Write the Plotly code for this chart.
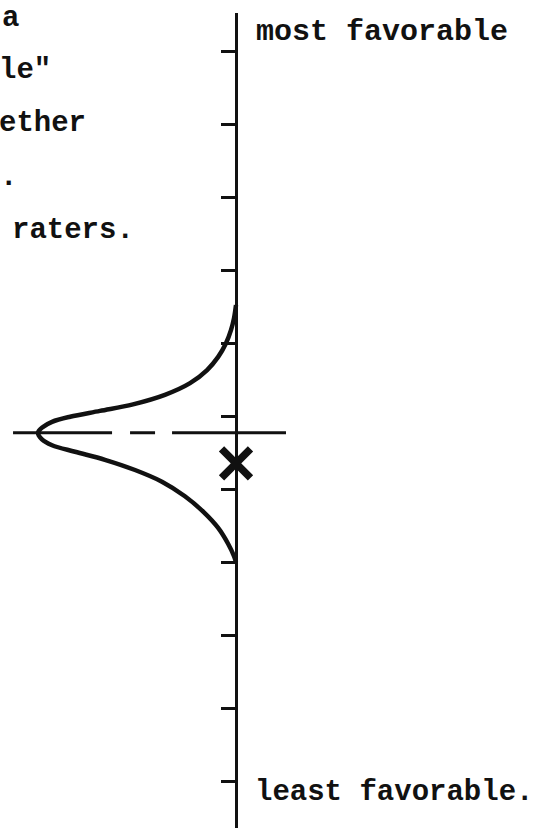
import plotly.graph_objects as go

# Rating scale: eleven tick positions, 0 = least favorable, 10 = most favorable
scale_ticks = list(range(11))

# Distribution of ratings, drawn to the left of the scale (relative frequency, peak = 1)
upper_levels = [6.52, 6.34, 6.18, 6.00, 5.81, 5.63, 5.45, 5.29, 5.16, 5.07, 4.99, 4.92, 4.85, 4.77]
upper_freq = [0.0, 0.01, 0.025, 0.05, 0.09, 0.146, 0.232, 0.359, 0.52, 0.687, 0.838, 0.929, 0.975, 1.0]
lower_levels = [4.68, 4.60, 4.51, 4.40, 4.26, 4.10, 3.90, 3.68, 3.47, 3.25, 3.08, 3.0]
lower_freq = [0.98, 0.929, 0.813, 0.662, 0.51, 0.374, 0.258, 0.162, 0.091, 0.04, 0.01, 0.0]

mean_level = 4.77          # average of the raters
own_rating = 4.35          # the individual rating (x)
mean_line_span = [-1.126, 0.2525]

# Fragments of the running text beside the chart
side_text = ['a', 'le"', 'ether', '.', 'raters.']

W, H = 538, 828
INK = "#111111"
FAMILY = "Liberation Mono, Courier New, monospace"


def font(size):
    return dict(family=FAMILY, size=size, color=INK, weight=700)


def px_x(p):
    return p / W


def px_y(p):
    return 1 - p / H


curve_levels = upper_levels + lower_levels
curve_freq = upper_freq + lower_freq

fig = go.Figure()

# Mean line across the distribution
fig.add_trace(go.Scatter(
    x=mean_line_span, y=[mean_level, mean_level], mode="lines",
    line=dict(color=INK, width=3, dash="99px,18px,25px,17px,150px,50px"),
    hoverinfo="skip", showlegend=False,
))

# Bell-shaped distribution of ratings
fig.add_trace(go.Scatter(
    x=[-f for f in curve_freq], y=curve_levels, mode="lines",
    line=dict(color=INK, width=4.5, shape="spline", smoothing=1.0),
    hoverinfo="skip", showlegend=False,
))

# Individual rating marker
fig.add_trace(go.Scatter(
    x=[0], y=[own_rating], mode="markers",
    marker=dict(symbol="x-thin", size=29, line=dict(color=INK, width=7.5)),
    hoverinfo="skip", showlegend=False,
))

fig.update_layout(
    width=W, height=H,
    margin=dict(l=0, r=0, t=0, b=0),
    paper_bgcolor="white", plot_bgcolor="white",
    showlegend=False,
    xaxis=dict(range=[-236 / 198, 302 / 198], visible=False, domain=[0, 1]),
    yaxis=dict(
        range=[(781 - 828) / 73, (781 - 13) / 73],
        domain=[0, (828 - 13) / 828],
        anchor="free", position=px_x(236),
        showline=True, linecolor=INK, linewidth=3,
        ticks="outside", ticklen=14, tickwidth=3, tickcolor=INK,
        tickvals=scale_ticks, showticklabels=False,
        showgrid=False, zeroline=False,
    ),
)

# Scale end labels
fig.add_annotation(text="most favorable", xref="paper", yref="paper",
                   x=px_x(254), y=px_y(32), xanchor="left", yanchor="middle",
                   showarrow=False, font=font(30))
fig.add_annotation(text="least favorable.", xref="paper", yref="paper",
                   x=px_x(253), y=px_y(792), xanchor="left", yanchor="middle",
                   showarrow=False, font=font(29))

# Running text at the left margin (right-aligned line endings);
# the first line hangs from the top edge, the others are centred on their rows
right_edges = [21, 53, 88, 19, 136]
centers = [None, 70, 123, 177, 230]
for txt, rx, cy in zip(side_text, right_edges, centers):
    if cy is None:
        ypos, yanc = 1.0, "top"
    else:
        ypos, yanc = px_y(cy), "middle"
    fig.add_annotation(text=txt, xref="paper", yref="paper",
                       x=px_x(rx), y=ypos, xanchor="right", yanchor=yanc,
                       showarrow=False, font=font(29))

fig.write_html("out.html")
